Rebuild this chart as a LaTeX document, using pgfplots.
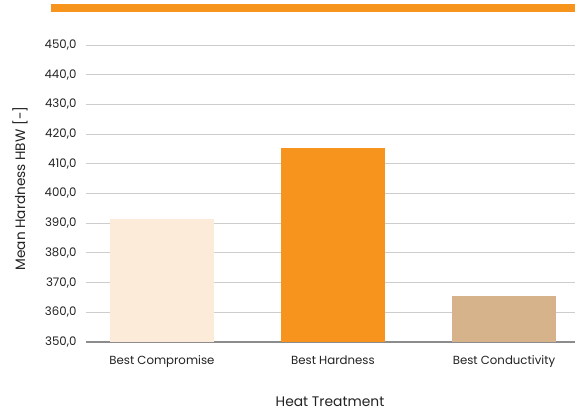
\documentclass[border=0pt]{standalone}
\usepackage{pgfplots}
\pgfplotsset{compat=1.18}
\usepackage{fontspec}
\setmainfont{Poppins}
\definecolor{barOrange}{HTML}{F7941E}
\definecolor{barLight}{HTML}{FDEBD9}
\definecolor{barTan}{HTML}{D6B38B}
\definecolor{gridGray}{HTML}{CDCDCD}
\definecolor{baseGray}{HTML}{8C8C8C}
\definecolor{txt}{HTML}{222222}
\begin{document}
\begin{tikzpicture}
\path[use as bounding box] (0,0) rectangle (575bp,412bp);
% orange header band
\fill[barOrange] (51bp,399.5bp) rectangle (575bp,408bp);
\begin{axis}[
  at={(86bp,70bp)}, anchor=south west,
  scale only axis,
  width=489bp, height=297bp,
  xmin=-0.444, xmax=2.415,
  ymin=350, ymax=450,
  ytick={350,360,...,450},
  xtick={0,1,2},
  xticklabels={Best Compromise, Best Hardness, Best Conductivity},
  major tick length=0pt,
  axis x line*=bottom,
  axis y line*=left,
  x axis line style={-, color=baseGray, line width=1.6pt},
  y axis line style={draw=none},
  ymajorgrids,
  grid style={gridGray, line width=0.9pt},
  clip=false,
  /pgf/number format/.cd, fixed, fixed zerofill, precision=1, use comma, 1000 sep={}, assume math mode=true,
  /pgfplots/.cd,
  yticklabel style={font=\fontsize{11.8}{13}\selectfont, text=txt, anchor=east, xshift=-6bp},
  xticklabel style={font=\fontsize{11.8}{13}\selectfont, text=txt, anchor=north, yshift=-10bp},
  ylabel={Mean Hardness HBW [-]},
  ylabel style={font=\fontsize{13.7}{15}\selectfont, text=txt, at={(-66bp,153.5bp)}, anchor=center},
  xlabel={Heat Treatment},
  xlabel style={font=\fontsize{13.9}{15}\selectfont, text=txt, at={(244bp,-60bp)}, anchor=center},
  ybar, bar width=104bp,
]
\addplot[fill=barLight, draw=none, bar shift=0pt] coordinates {(0,391.4)};
\addplot[fill=barOrange, draw=none, bar shift=0pt] coordinates {(1,415.4)};
\addplot[fill=barTan, draw=none, bar shift=0pt] coordinates {(2,365.5)};
\end{axis}
\end{tikzpicture}
\end{document}
